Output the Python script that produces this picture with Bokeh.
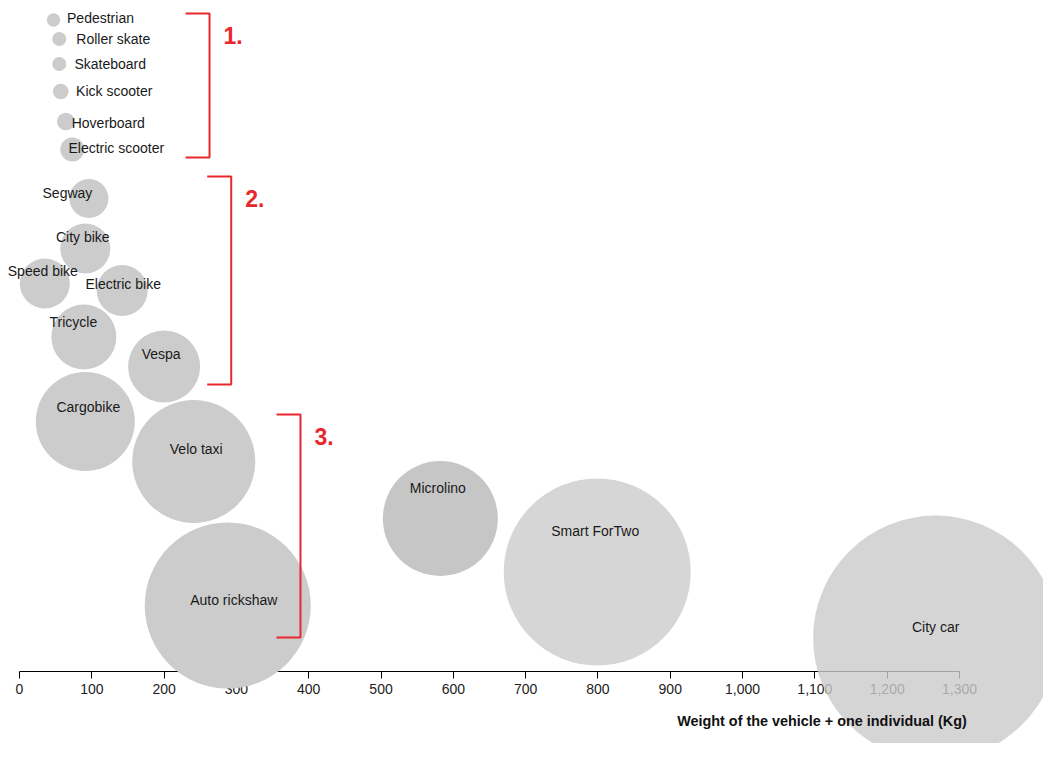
from bokeh.plotting import figure
from bokeh.models import (ColumnDataSource, Range1d, LinearAxis, FixedTicker,
                          NumeralTickFormatter, Label)
from bokeh.core.properties import value
from bokeh.embed import file_html
from bokeh.resources import INLINE

# ---- data ----
vehicles = ["Pedestrian", "Roller skate", "Skateboard", "Kick scooter", "Hoverboard",
            "Electric scooter", "Segway", "City bike", "Speed bike", "Electric bike",
            "Tricycle", "Vespa", "Cargobike", "Velo taxi", "Auto rickshaw",
            "Microlino", "Smart ForTwo", "City car"]
weight_kg = [47, 55, 55, 57, 64, 73, 96, 91, 35, 142, 89, 200, 91, 241, 288, 582, 799, 1267]
row_pos = [19.5, 38.5, 63.5, 91, 121, 149, 198, 248, 283, 290, 336.5, 366, 421, 461,
           605, 518, 571.5, 637.5]
bubble = [6.7, 7, 7, 7.8, 8.8, 12, 19.5, 25, 25, 25.5, 32.5, 36, 49.5, 61.5,
          83, 57.5, 93.5, 122.5]
x_ticks = [0, 100, 200, 300, 400, 500, 600, 700, 800, 900, 1000, 1100, 1200, 1300]

groups = ["1.", "2.", "3."]
group_x = [262.8, 292.8, 388.6]
group_top = [13, 176, 414]
group_bottom = [157, 384, 637]

# ---- styles ----
fills = ["#cccccc"] * 15 + ["#c6c6c6", "#d6d6d6", "#cbcbcb"]
alphas = [1.0] * 17 + [0.8]
lab_dx = [47, 54, 51, 53.5, 42.5, 44, -21.5, -2.5, -2, 1, -10.5, -3, 3, 2.5, 6, -2.5, -2, 0]
lab_dy = [-2.5, -0.5, -0.5, -1, 1, -2, -6, -12, -13, -7, -15.5, -13, -15, -13, -6, -31, -41.5, -11]

FONT = value("Liberation Sans")
RED = "#e8282e"

W, H = 1043, 743
scale = 940 / 1300.0
x0 = -19 / scale

p = figure(width=W, height=H, output_backend="svg", toolbar_location=None,
           x_range=Range1d(x0, x0 + W / scale), y_range=Range1d(H, 0),
           x_axis_type=None, y_axis_type=None, min_border=0)
p.outline_line_color = None
p.grid.visible = False
p.background_fill_color = "white"

src = ColumnDataSource(dict(name=vehicles, x=weight_kg, y=row_pos,
                            d=[2 * b for b in bubble], fill=fills, alpha=alphas,
                            dx=lab_dx, dy=lab_dy))

ax = LinearAxis(fixed_location=671, bounds=(0, 1300),
                ticker=FixedTicker(ticks=x_ticks),
                formatter=NumeralTickFormatter(format="0,0"))
ax.level = "underlay"
ax.axis_line_color = "black"
ax.axis_line_width = 1.2
ax.major_tick_line_color = "black"
ax.major_tick_in = 0
ax.major_tick_out = 7
ax.minor_tick_line_color = None
ax.major_label_standoff = 5
ax.major_label_text_font = "Liberation Sans"
ax.major_label_text_font_size = "14px"
ax.major_label_text_color = "#222222"
p.add_layout(ax, "below")

p.scatter("x", "y", size="d", source=src, marker="circle", fill_color="fill",
          fill_alpha="alpha", line_color=None)

p.text("x", "y", text="name", source=src, x_offset="dx", y_offset="dy",
       text_align="center", text_baseline="middle", text_font=FONT,
       text_font_size="14px", text_color="#1a1a1a")

# group brackets
arm = 24 / scale
bx = [[gx - arm, gx, gx, gx - arm] for gx in group_x]
by = [[t, t, b, b] for t, b in zip(group_top, group_bottom)]
p.multi_line(bx, by, line_color=RED, line_width=2)
p.text([gx + 14 / scale for gx in group_x], [t + 22 for t in group_top], text=groups,
       text_align="left", text_baseline="middle", text_font=FONT,
       text_font_size="23px", text_font_style="bold", text_color=RED)

p.add_layout(Label(x=1310, y=720, text="Weight of the vehicle + one individual (Kg)",
                   text_align="right", text_baseline="middle",
                   text_font="Liberation Sans", text_font_size="14.4px",
                   text_font_style="bold", text_color="#111111"))

open("out.html", "w").write(file_html(p, INLINE))
